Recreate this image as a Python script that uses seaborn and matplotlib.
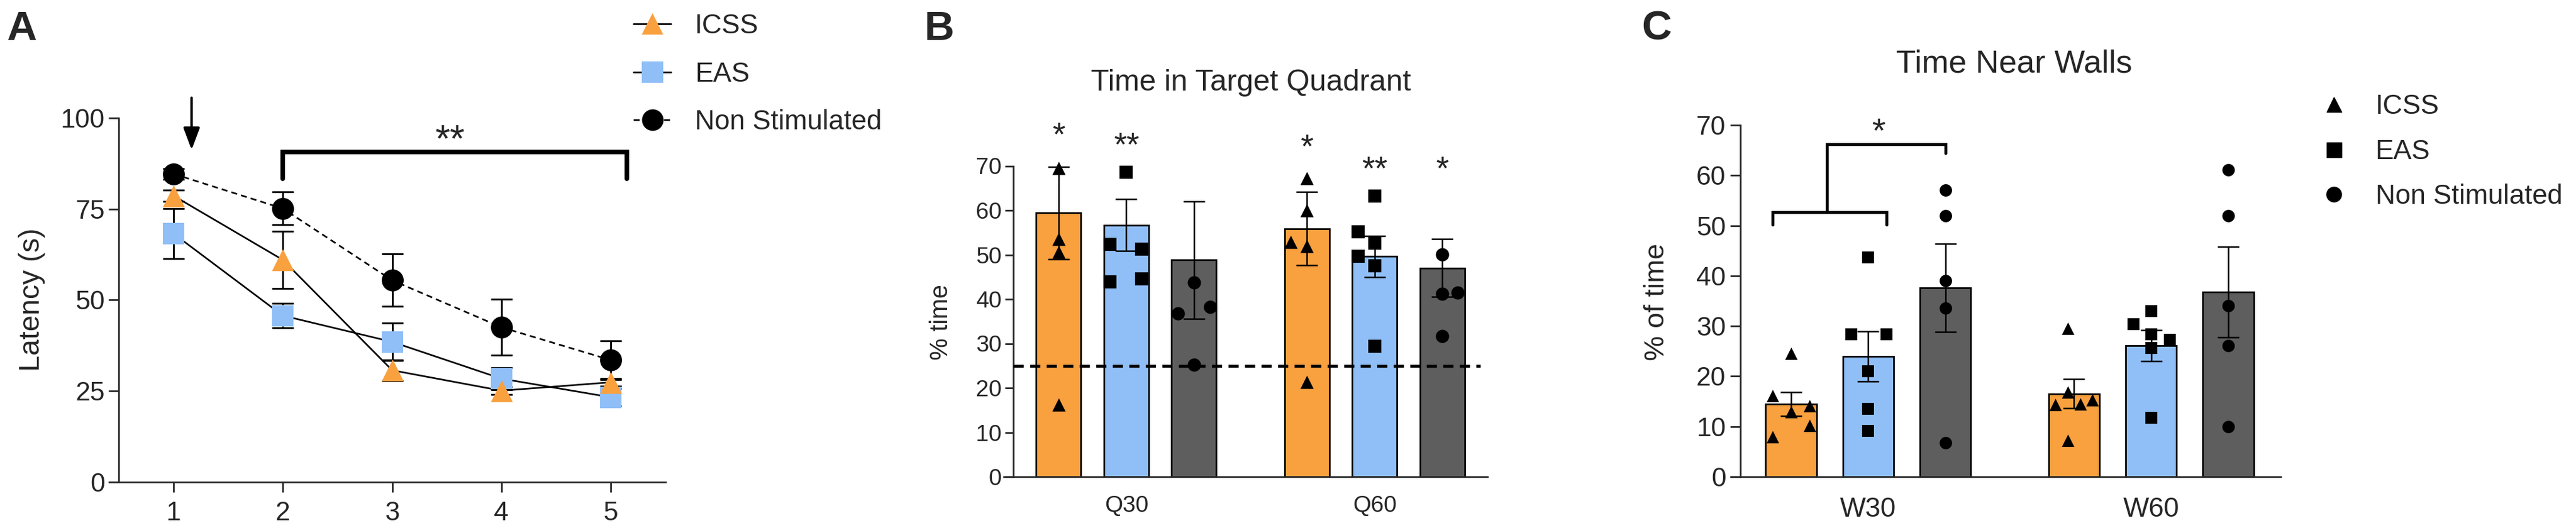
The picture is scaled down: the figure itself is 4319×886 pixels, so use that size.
import numpy as np
import pandas as pd
import matplotlib
matplotlib.use("Agg")
import matplotlib.pyplot as plt
from matplotlib.lines import Line2D
import seaborn as sns

sns.set_style("ticks")
plt.rcParams["font.family"] = ["Liberation Sans", "DejaVu Sans"]
plt.rcParams["axes.linewidth"] = 2

# groups and colours
GROUPS = ["ICSS", "EAS", "Non Stimulated"]
ORANGE = "#F9A03F"
BLUE = "#90BFF8"
GRAY = "#5E5E5E"
COLORS = [ORANGE, BLUE, GRAY]
MARKERS = ["^", "s", "o"]

# A - latency per day (mean, sem)
days = [1, 2, 3, 4, 5]
lat_icss = [78.6, 61.0, 30.7, 25.1, 27.4]
lat_eas = [68.2, 45.7, 38.5, 28.4, 23.3]
lat_ns = [84.6, 75.1, 55.4, 42.5, 33.5]
sem_icss = [1.5, 7.9, 2.9, 1.0, 1.0]
sem_eas = [6.9, 3.3, 5.2, 3.0, 2.4]
sem_ns = [1.5, 4.5, 7.2, 7.7, 5.3]

# B - time in target quadrant
quad_labels = ["Q30", "Q60"]
quad_mean_icss = [59.4, 55.9]
quad_mean_eas = [56.7, 49.6]
quad_mean_ns = [48.8, 47.0]
quad_sem_icss = [10.4, 8.2]
quad_sem_eas = [5.8, 4.65]
quad_sem_ns = [13.2, 6.5]
q30_icss = [69.5, 53.6, 50.6, 16.2]
q30_eas = [68.6, 52.3, 51.3, 43.9, 44.6]
q30_ns = [43.8, 36.8, 38.2, 25.3]
q60_icss = [67.2, 60.0, 52.9, 51.9, 21.3]
q60_eas = [63.2, 55.2, 52.6, 49.7, 47.5, 29.4]
q60_ns = [50.1, 41.2, 41.5, 31.7]
quad_stars = ["*", "**", "", "*", "**", "*"]
quad_star_y = [79.0, 76.7, 0, 76.3, 71.4, 71.4]

# C - time near walls
wall_labels = ["W30", "W60"]
wall_mean_icss = [14.5, 16.5]
wall_mean_eas = [24.0, 26.1]
wall_mean_ns = [37.6, 36.8]
wall_sem_icss = [2.4, 2.9]
wall_sem_eas = [5.0, 3.1]
wall_sem_ns = [8.8, 9.0]
w30_icss = [24.6, 16.1, 12.9, 14.1, 10.2, 7.9]
w30_eas = [43.7, 28.4, 28.4, 21.0, 13.5, 9.1]
w30_ns = [57.1, 52.0, 39.0, 33.6, 6.8]
w60_icss = [29.6, 16.8, 14.4, 14.5, 15.3, 7.2]
w60_eas = [33.0, 30.4, 28.3, 27.3, 25.6, 11.7]
w60_ns = [61.1, 52.0, 34.0, 26.1, 10.0]

# horizontal scatter of the dots, in bar-spacing units
JIT_B = [[0, 0, 0, 0], [0, -0.24, 0.23, -0.24, 0.23], [0, -0.24, 0.24, 0],
         [0, 0, -0.24, 0, 0], [0, -0.24, 0, -0.24, 0, 0], [0, 0, 0.23, 0]]
JIT_C = [[0, -0.24, 0, 0.24, 0.24, -0.24], [0, -0.22, 0.24, 0, 0, 0], [0] * 5,
         [-0.08, -0.08, -0.24, 0.08, 0.24, -0.08], [0, -0.23, 0, 0.24, 0, 0], [0] * 5]

W, H = 4319, 886
fig = plt.figure(figsize=(W / 100, H / 100), dpi=100)


def px_axes(left, right, top, bottom):
    return fig.add_axes([left / W, 1 - bottom / H, (right - left) / W, (bottom - top) / H])


def star(ax, x, y, s, size):
    # y is the centre of the asterisk ink
    ax.annotate(s, xy=(x, y), xytext=(0, -0.58 * size), textcoords="offset points",
                ha="center", va="baseline", fontsize=size, annotation_clip=False)


def overhang(ax, px):
    # prism-style x axis that starts a little left of the y axis
    x0, x1 = ax.get_xlim()
    unit = ax.get_window_extent().width / (x1 - x0)
    ax.spines["bottom"].set_bounds(x0 - px / unit, x1)


def bar_panel(ax, labels, means, sems, points, jitter, pt_size, xlim):
    df = pd.DataFrame({"cond": np.tile(labels, 3),
                       "group": np.repeat(GROUPS, 2),
                       "mean": np.concatenate(means)})
    sns.barplot(data=df, x="cond", y="mean", hue="group", order=labels,
                hue_order=GROUPS, palette=COLORS, saturation=1, width=0.818,
                gap=0.34, errorbar=None, edgecolor="black", linewidth=2,
                legend=False, ax=ax)
    bars = sorted(ax.patches, key=lambda p: p.get_x())
    centers = [p.get_x() + p.get_width() / 2 for p in bars]
    sp = centers[1] - centers[0]
    m = [means[g][c] for c in range(2) for g in range(3)]
    s = [sems[g][c] for c in range(2) for g in range(3)]
    ax.errorbar(centers, m, yerr=s, fmt="none", ecolor="black", elinewidth=1.8,
                capsize=13, capthick=1.8, zorder=3)
    for i, vals in enumerate(points):
        xs = centers[i] + np.array(jitter[i]) * sp
        sns.scatterplot(x=xs, y=vals, marker=MARKERS[i % 3], color="black",
                        s=pt_size ** 2, linewidth=0, zorder=4, clip_on=False, ax=ax)
    ax.set_xlim(*xlim)
    ax.set_ylim(0, 70)
    ax.set_yticks(range(0, 80, 10))
    ax.set_xlabel("")
    ax.set_ylabel("")
    sns.despine(ax=ax)
    overhang(ax, 16)
    return centers, sp


# ---------------- A ----------------
axA = px_axes(199.4, 1115.6, 197.7, 809)
for vals, ls in [(lat_eas, "-"), (lat_icss, "-"), (lat_ns, (0, (3.6, 2.5)))]:
    sns.lineplot(x=days, y=vals, color="black", lw=2, ls=ls, zorder=1, ax=axA)
for vals, err, mk, col in [(lat_eas, sem_eas, "s", BLUE), (lat_icss, sem_icss, "^", ORANGE),
                           (lat_ns, sem_ns, "o", "black")]:
    axA.errorbar(days, vals, yerr=err, fmt="none", ecolor="black", elinewidth=2.2,
                 capsize=13, capthick=2.2, zorder=2)
    sns.scatterplot(x=days, y=vals, marker=mk, color=col, s=26.5 ** 2, linewidth=0,
                    zorder=4, ax=axA)
axA.set_xlim(0.5, 5.5)
axA.set_ylim(0, 100)
axA.set_xticks(days)
axA.set_yticks([0, 25, 50, 75, 100])
axA.tick_params(labelsize=32, width=2, length=12)
axA.tick_params(axis="x", pad=11)
axA.tick_params(axis="y", pad=5)
sns.despine(ax=axA)
overhang(axA, 16)

axA.annotate("", xy=(1.165, 91.2), xytext=(1.165, 105.5), annotation_clip=False,
             arrowprops=dict(arrowstyle="-|>,head_length=0.75,head_width=0.28",
                             lw=3, color="black", mutation_scale=30, shrinkA=0, shrinkB=0))
axA.plot([2, 2, 5.15, 5.15], [83.3, 90.6, 90.6, 83.3], color="black", lw=5.5,
         solid_joinstyle="miter", clip_on=False)
star(axA, 3.53, 96.8, "**", 46)

leg_a = [Line2D([0], [0], color="black", lw=2, marker="^", markersize=26,
                markerfacecolor=ORANGE, markeredgewidth=0),
         Line2D([0], [0], color="black", lw=2, marker="s", markersize=26,
                markerfacecolor=BLUE, markeredgewidth=0),
         Line2D([0], [0], color="black", lw=2, ls=(0, (3.6, 2.5)), marker="o",
                markersize=26, markerfacecolor="black", markeredgewidth=0)]
fig.legend(leg_a, GROUPS, loc="upper left", bbox_to_anchor=(1062 / W, 0.975),
           frameon=False, fontsize=33, handlelength=1.375, handletextpad=0.87,
           labelspacing=0.8, borderpad=0, borderaxespad=0)

# ---------------- B ----------------
axB = px_axes(1699, 2494, 278.5, 800)
cB, spB = bar_panel(axB, quad_labels,
                    [quad_mean_icss, quad_mean_eas, quad_mean_ns],
                    [quad_sem_icss, quad_sem_eas, quad_sem_ns],
                    [q30_icss, q30_eas, q30_ns, q60_icss, q60_eas, q60_ns],
                    JIT_B, 16, (-0.455, 1.455))
axB.plot([-0.455, 1.426], [25, 25], color="black", lw=3.5, ls=(0, (3.5, 2.2)), zorder=3.5)
axB.tick_params(labelsize=28, width=2)
axB.tick_params(axis="y", length=10, pad=4)
axB.tick_params(axis="x", length=0, pad=22)
for x, txt, y in zip(cB, quad_stars, quad_star_y):
    if txt:
        star(axB, x, y, txt, 40)

# ---------------- C ----------------
axC = px_axes(2918, 3824, 210, 800)
cC, spC = bar_panel(axC, wall_labels,
                    [wall_mean_icss, wall_mean_eas, wall_mean_ns],
                    [wall_sem_icss, wall_sem_eas, wall_sem_ns],
                    [w30_icss, w30_eas, w30_ns, w60_icss, w60_eas, w60_ns],
                    JIT_C, 15, (-0.4516, 1.4581))
axC.tick_params(labelsize=32, width=2)
axC.tick_params(axis="y", length=12, pad=5.5)
axC.tick_params(axis="x", length=0, pad=24, labelsize=33)
x0, x1 = cC[0] - 0.24 * spC, cC[1] + 0.24 * spC
xm = cC[0] + 0.463 * spC
axC.plot([x0, x0, x1, x1], [50.2, 52.7, 52.7, 50.2], color="black", lw=3.6,
         solid_joinstyle="miter", clip_on=False)
axC.plot([xm, xm, cC[2], cC[2]], [52.7, 66.2, 66.2, 64.4], color="black", lw=3.6,
         solid_joinstyle="miter", clip_on=False)
star(axC, cC[0] + 1.135 * spC, 70.6, "*", 42)

leg_c = [Line2D([0], [0], ls="none", marker=mk, markersize=18, color="black")
         for mk in MARKERS]
fig.legend(leg_c, GROUPS, loc="upper left", bbox_to_anchor=(3890 / W, 0.8228),
           frameon=False, fontsize=33, handlelength=1.0, handletextpad=1.02,
           labelspacing=0.69, borderpad=0, borderaxespad=0)

# ---------------- texts ----------------
for letter, x in [("A", 11), ("B", 1549), ("C", 2752)]:
    fig.text(x / W, 0.981, letter, fontsize=50, fontweight="bold", ha="left", va="top")
fig.text(2097 / W, 0.8284, "Time in Target Quadrant", fontsize=36, ha="center", va="baseline")
fig.text(3377 / W, 0.8634, "Time Near Walls", fontsize=39, ha="center", va="baseline")
fig.text(53.5 / W, 0.4323, "Latency (s)", fontsize=35, rotation=90, ha="center", va="center")
fig.text(1578 / W, 0.3894, "% time", fontsize=30, rotation=90, ha="center", va="center")
fig.text(2777.5 / W, 0.4278, "% of time", fontsize=34, rotation=90, ha="center", va="center")

fig.savefig("out.png", dpi=100)
